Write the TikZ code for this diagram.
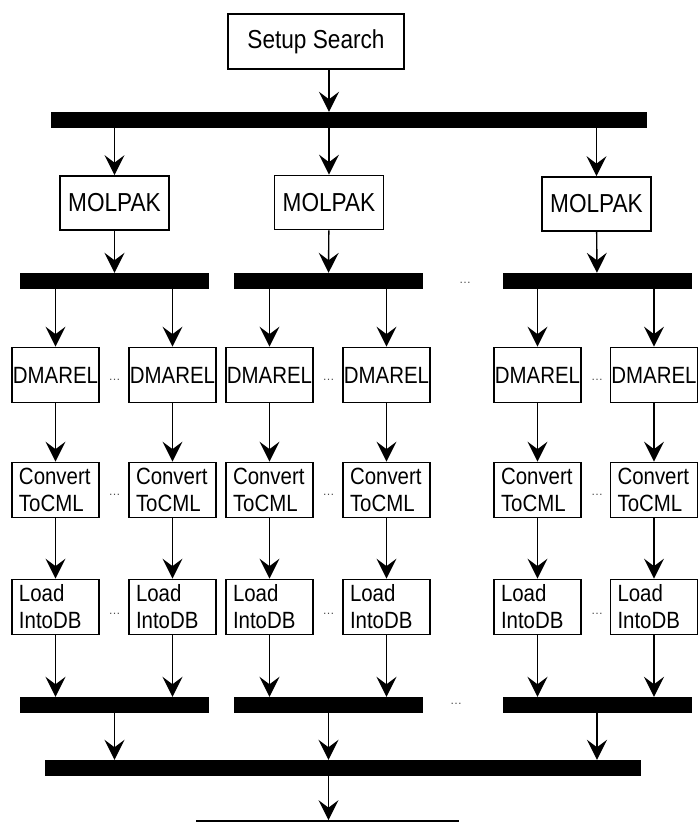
\documentclass[tikz,border=0pt]{standalone}
\usepackage{fontspec}
\setmainfont{Liberation Sans}
\newfontfamily\narrowsans[FakeStretch=0.87]{Liberation Sans}
\usepackage{tikz}
\usetikzlibrary{arrows.meta}

\tikzset{
    task/.style={draw, line width=1.7pt, inner sep=0pt, font=\narrowsans\fontsize{26}{28}\selectfont},
    job/.style={draw, line width=1.7pt, inner sep=0pt, minimum width=87pt, minimum height=55pt,
                font=\narrowsans\fontsize{23.5}{27}\selectfont},
    jobtwo/.style={job, text width=73pt, inner xsep=7pt, align=left},
    bar/.style={fill=black, inner sep=0pt, minimum height=16pt, minimum width=189pt},
    arr/.style={-{Stealth[length=20pt, width=20pt, inset=7.5pt]}, line width=1.4pt},
    more/.style={font=\fontsize{12}{12}\selectfont, text=black!70, anchor=base, inner sep=0pt}
}

\begin{document}
\begin{tikzpicture}[x=1pt, y=-1pt]
    \useasboundingbox (0,0) rectangle (698,822);
    \clip (0,0) rectangle (698,822);

    % Setup and top split
    \node[task, minimum width=176pt, minimum height=55pt] (setup) at (316,41.5) {Setup Search};
    \node[bar, minimum width=596pt] (topbar) at (349,120) {};

    % MOLPAK runs
    \node[task, minimum width=109pt, minimum height=54pt] (m1) at (114.5,203) {MOLPAK};
    \node[task, minimum width=109pt, minimum height=54pt] (m2) at (329,202.5) {MOLPAK};
    \node[task, minimum width=109pt, minimum height=54pt] (m3) at (596.5,204) {MOLPAK};

    % Split bars under MOLPAK, join bars above the bottom
    \node[bar] (upa) at (114.5,281) {};
    \node[bar] (upb) at (328.5,281) {};
    \node[bar] (upc) at (597,281) {};
    \node[bar] (loa) at (114.5,705) {};
    \node[bar] (lob) at (328.5,705) {};
    \node[bar] (loc) at (597,705) {};
    \node[bar, minimum width=596pt] (botbar) at (343,768) {};
    \node[draw, line width=1.7pt, minimum width=261pt, minimum height=60pt] (final) at (327.5,851) {};

    \draw[arr] (setup.south -| m2) -- (topbar.north -| m2);
    \foreach \m/\b in {m1/a, m2/b, m3/c} {
        \draw[arr] (topbar.south -| \m) -- (\m.north);
        \draw[arr] (\m) -- (up\b);
        \draw[arr] (lo\b) -- (botbar.north -| lo\b);
    }
    \draw[arr] (botbar.south -| lob) -- (final.north -| lob);

    % DMAREL -> ConvertToCML -> LoadIntoDB columns
    \foreach \i/\x/\b in {1/55.5/a, 2/172.5/a, 3/269.5/b, 4/386.5/b, 5/537.5/c, 6/654/c} {
        \node[job] (d\i) at (\x,375) {DMAREL};
        \node[jobtwo] (c\i) at (\x,490) {Convert\\ToCML};
        \node[jobtwo] (l\i) at (\x,607) {Load\\IntoDB};
        \draw[arr] (up\b.south -| d\i) -- (d\i.north);
        \draw[arr] (d\i) -- (c\i);
        \draw[arr] (c\i) -- (l\i);
        \draw[arr] (l\i) -- (lo\b.north -| l\i);
    }

    % Ellipses
    \foreach \x in {114.5, 328.5, 597} {
        \node[more] at (\x,380.5) {\ldots};
        \node[more] at (\x,495) {\ldots};
        \node[more] at (\x,614) {\ldots};
    }
    \node[more] (gapup) at (465,283.5) {\ldots};
    \node[more] (gaplo) at (456,704.5) {\ldots};
\end{tikzpicture}
\end{document}
